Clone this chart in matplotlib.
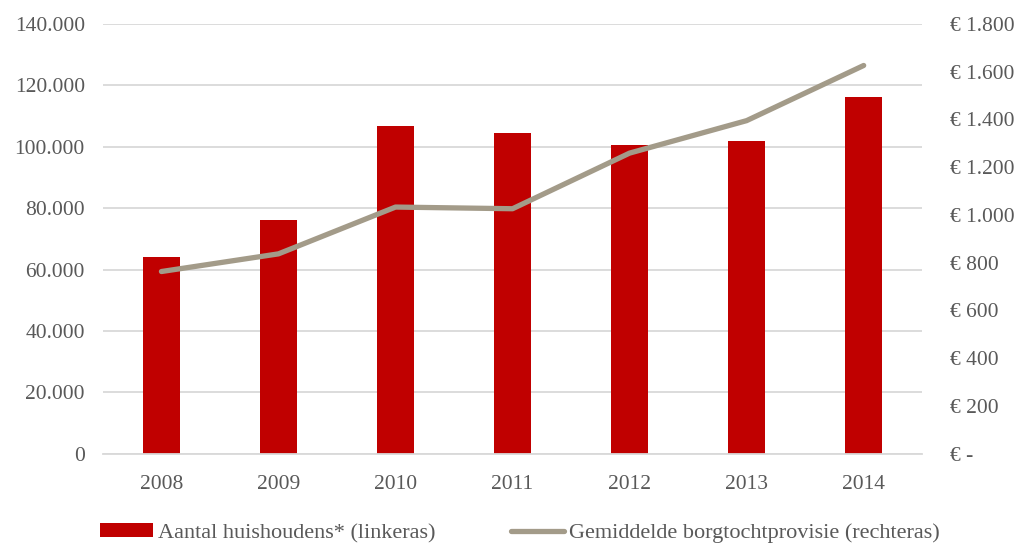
import matplotlib.pyplot as plt
from matplotlib.ticker import FuncFormatter

years = ['2008', '2009', '2010', '2011', '2012', '2013', '2014']
huishoudens = [64000, 76000, 106700, 104500, 100500, 101900, 116100]
provisie = [763, 837, 1033, 1026, 1259, 1395, 1626]

red = '#C00000'
taupe = '#A39B89'
grey = '#595959'

plt.rcParams['font.family'] = ['Liberation Serif', 'DejaVu Serif']
fs = 15.5

fig = plt.figure(figsize=(10.19, 5.44), dpi=100)
ax = fig.add_axes([0.101, 0.166, 0.804, 0.790])
ax2 = ax.twinx()

x = range(len(years))
bars = ax.bar(x, huishoudens, width=0.32, color=red, zorder=2,
              label='Aantal huishoudens* (linkeras)')
line, = ax2.plot(x, provisie, color=taupe, lw=3.8, solid_capstyle='round',
                 label='Gemiddelde borgtochtprovisie (rechteras)')

ax.set_xlim(-0.5, len(years) - 0.5)
ax.set_ylim(0, 140000)
ax.set_yticks(range(0, 140001, 20000))
ax.yaxis.set_major_formatter(FuncFormatter(
    lambda v, p: '0' if v == 0 else f'{int(v):,}'.replace(',', '.')))
ax2.set_ylim(0, 1800)
ax2.set_yticks(range(0, 1801, 200))
ax2.yaxis.set_major_formatter(FuncFormatter(
    lambda v, p: '€ -' if v == 0 else '€ ' + f'{int(v):,}'.replace(',', '.')))

ax.set_xticks(list(x))
ax.set_xticklabels(years)
ax.grid(axis='y', color='#D9D9D9', lw=1.3, zorder=0)
ax.set_axisbelow(True)

for a in (ax, ax2):
    for s in a.spines.values():
        s.set_visible(False)
    a.tick_params(length=0, colors=grey, labelsize=fs)
ax.spines['bottom'].set_visible(True)
ax.spines['bottom'].set_color('#D9D9D9')
ax.spines['bottom'].set_linewidth(1.3)
ax.tick_params(axis='y', pad=13)
ax.tick_params(axis='x', pad=15)
ax2.tick_params(axis='y', pad=20)

fig.legend(handles=[bars, line], loc='lower center', ncol=2, frameon=False,
           bbox_to_anchor=(0.51, -0.035), handlelength=2.4, handleheight=0.6,
           handletextpad=0.2, columnspacing=3.4, labelcolor=grey,
           fontsize=fs + 0.5)

fig.savefig('out.png', dpi=100)
